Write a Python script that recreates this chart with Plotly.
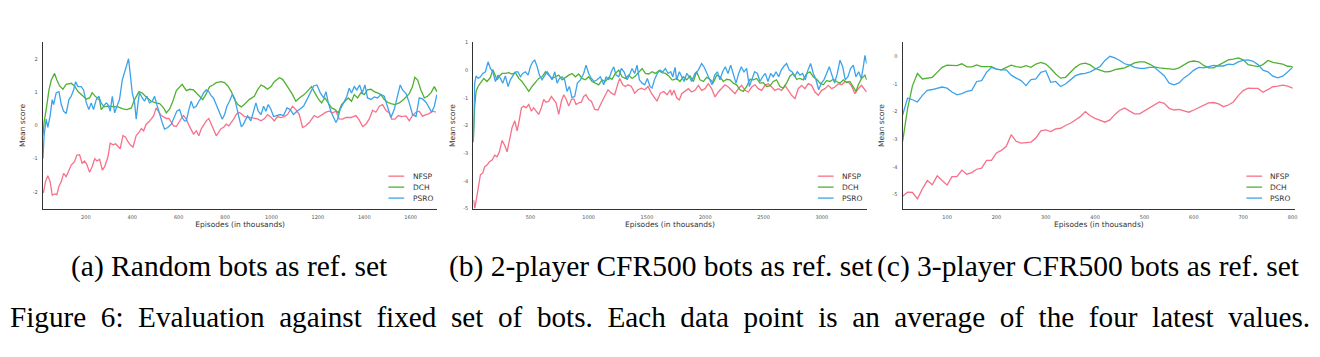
import plotly.graph_objects as go

# ---------------- data: panel (a) Random bots ----------------
A_NFSP_X = [17, 26, 36, 46, 55, 65, 75, 84, 94, 104, 115, 127, 137, 151, 161, 173, 184, 194, 204, 216, 227, 238, 248, 259, 271, 281, 295, 305, 317, 328, 338, 348, 360, 371, 381, 391, 403, 417, 429, 439, 449, 460, 472, 482, 492, 503, 515, 525, 535, 547, 558, 568, 578, 590, 601, 611, 621, 633, 644, 654, 664, 676, 687, 697, 707, 719, 730, 740, 750, 762, 773, 783, 793, 805, 816, 827, 837, 848, 860, 870, 883, 900, 920, 940, 955, 969, 983, 998, 1012, 1026, 1040, 1055, 1069, 1080, 1091, 1105, 1120, 1134, 1148, 1163, 1184, 1199, 1213, 1235, 1249, 1263, 1278, 1292, 1307, 1321, 1342, 1364, 1378, 1393, 1407, 1421, 1436, 1450, 1465, 1479, 1493, 1508, 1518, 1532, 1547, 1561, 1580, 1594, 1608, 1623, 1637, 1651, 1666, 1680, 1695, 1709]
A_NFSP_Y = [-2.03, -1.69, -1.51, -1.69, -2.10, -2.06, -2.08, -1.83, -1.69, -1.44, -1.54, -1.34, -1.19, -1.09, -0.90, -0.88, -1.14, -1.07, -1.17, -1.41, -1.24, -1.00, -1.07, -1.02, -1.34, -1.24, -0.95, -0.53, -0.58, -0.55, -0.62, -0.70, -0.30, -0.35, -0.48, -0.58, -0.65, -0.30, -0.21, -0.09, -0.16, 0.04, 0.11, 0.19, 0.29, 0.53, 0.40, 0.30, 0.26, 0.21, 0.21, 0.11, -0.01, -0.03, 0.11, 0.21, 0.30, 0.19, 0.01, -0.11, -0.26, -0.16, -0.31, -0.11, 0.01, 0.14, 0.21, 0.07, -0.11, -0.31, -0.19, -0.09, -0.06, 0.04, -0.01, 0.09, 0.19, 0.33, 0.40, 0.35, 0.27, 0.25, 0.22, 0.20, 0.14, 0.20, 0.33, 0.25, 0.14, 0.27, 0.24, 0.27, 0.33, 0.45, 0.58, 0.48, 0.33, -0.06, -0.01, 0.09, 0.30, 0.24, 0.30, 0.40, 0.43, 0.38, 0.43, 0.20, 0.19, 0.24, 0.24, 0.30, 0.17, -0.03, 0.04, 0.19, 0.46, 0.40, 0.58, 0.63, 0.46, 0.38, 0.19, 0.19, 0.30, 0.27, 0.29, 0.14, 0.30, 0.40, 0.43, 0.28, 0.33, 0.36, 0.43, 0.40]

A_DCH_X = [15, 20, 29, 41, 51, 65, 75, 87, 101, 115, 137, 151, 166, 184, 202, 216, 227, 238, 252, 259, 266, 276, 295, 317, 338, 360, 377, 396, 410, 429, 443, 460, 482, 500, 518, 535, 547, 561, 575, 590, 604, 615, 633, 647, 664, 676, 690, 704, 719, 733, 748, 762, 783, 798, 812, 827, 841, 855, 870, 883, 904, 926, 940, 955, 969, 983, 998, 1012, 1034, 1048, 1069, 1091, 1105, 1120, 1141, 1159, 1173, 1187, 1202, 1216, 1230, 1245, 1259, 1274, 1288, 1302, 1317, 1331, 1345, 1357, 1371, 1386, 1400, 1414, 1429, 1443, 1457, 1472, 1486, 1501, 1515, 1532, 1551, 1572, 1594, 1608, 1618, 1630, 1644, 1659, 1673, 1688, 1702, 1713]
A_DCH_Y = [-0.30, 0.10, 0.48, 1.07, 1.37, 1.57, 1.37, 1.19, 1.09, 1.24, 1.27, 1.19, 1.02, 0.90, 0.80, 0.83, 0.99, 0.90, 0.80, 0.76, 0.48, 0.56, 0.58, 0.58, 0.56, 0.50, 0.48, 0.53, 0.78, 1.02, 0.98, 0.86, 0.73, 0.68, 0.66, 0.53, 0.38, 0.50, 0.73, 1.05, 1.17, 1.24, 1.05, 1.09, 1.07, 0.98, 0.86, 0.78, 0.96, 1.17, 1.22, 1.29, 1.32, 1.29, 1.19, 1.02, 0.78, 0.63, 0.56, 0.63, 0.78, 0.88, 1.07, 1.22, 1.17, 1.09, 1.17, 1.32, 1.44, 1.39, 1.17, 0.93, 0.73, 0.83, 0.93, 1.07, 1.17, 0.98, 0.80, 0.68, 0.83, 0.68, 0.53, 0.48, 0.38, 0.63, 0.73, 0.83, 0.73, 0.93, 0.83, 0.99, 0.93, 1.07, 1.09, 1.02, 0.98, 0.93, 0.78, 0.70, 0.66, 0.63, 0.68, 0.80, 0.96, 1.17, 1.45, 1.37, 1.07, 0.83, 0.88, 0.99, 1.17, 1.02]

A_PSRO_X = [15, 20, 29, 36, 46, 55, 61, 72, 84, 94, 104, 115, 127, 137, 147, 156, 166, 180, 190, 202, 213, 223, 233, 245, 256, 266, 276, 288, 295, 305, 314, 324, 334, 345, 357, 367, 377, 384, 391, 400, 410, 417, 424, 431, 443, 453, 463, 474, 486, 496, 506, 518, 529, 539, 553, 568, 582, 592, 604, 615, 625, 633, 644, 654, 664, 676, 687, 697, 707, 719, 730, 740, 750, 762, 776, 788, 798, 808, 819, 831, 841, 848, 860, 870, 876, 886, 897, 911, 923, 933, 943, 955, 966, 976, 986, 998, 1009, 1023, 1038, 1052, 1067, 1081, 1095, 1110, 1124, 1138, 1153, 1167, 1182, 1196, 1210, 1225, 1235, 1245, 1256, 1268, 1278, 1285, 1296, 1311, 1325, 1335, 1345, 1357, 1368, 1380, 1391, 1403, 1414, 1429, 1443, 1457, 1472, 1486, 1501, 1515, 1529, 1544, 1555, 1565, 1580, 1594, 1608, 1623, 1637, 1651, 1666, 1680, 1690, 1702, 1713]
A_PSRO_Y = [-1.00, -0.30, 0.19, -0.06, 0.29, 0.78, 0.63, 0.98, 1.02, 0.63, 0.43, 0.36, 0.78, 0.88, 1.07, 1.32, 1.17, 1.17, 1.07, 0.68, 0.48, 0.68, 0.48, 0.78, 0.88, 0.68, 0.58, 0.68, 0.63, 0.43, 0.88, 0.38, 0.58, 0.78, 1.37, 1.62, 1.86, 2.01, 1.57, 0.98, 0.68, 0.19, 0.63, 0.99, 0.83, 0.73, 0.88, 0.68, 0.73, 0.88, 0.63, 0.33, 0.09, -0.11, -0.06, 0.04, 0.24, 0.43, 0.48, 0.24, 0.14, 0.14, 0.48, 0.73, 0.53, 0.58, 0.73, 0.83, 0.98, 1.07, 1.02, 0.90, 0.83, 0.63, 0.43, 0.19, 0.33, 0.58, 0.73, 0.93, 0.83, 0.58, 0.24, -0.03, 0.00, 0.14, 0.29, 0.14, 0.43, 0.68, 0.43, 0.33, 0.58, 0.43, 0.63, 0.48, 0.27, 0.30, 0.33, 0.30, 0.53, 0.48, 0.33, 0.43, 0.50, 0.58, 0.78, 0.98, 1.19, 1.22, 0.99, 0.83, 1.02, 0.68, 0.43, 0.24, 0.09, 0.19, 0.48, 0.68, 0.88, 1.12, 0.98, 1.17, 1.07, 1.22, 0.98, 1.22, 0.83, 0.78, 0.86, 0.83, 0.93, 0.88, 0.53, 0.24, 0.48, 0.88, 1.22, 1.07, 0.96, 0.68, 0.33, 0.27, 0.83, 0.80, 0.70, 0.53, 0.40, 0.58, 0.93]

# ---------------- data: panel (b) 2-player CFR500 bots ----------------
B_NFSP_X = [14, 22, 34, 51, 71, 91, 108, 128, 148, 171, 194, 214, 234, 257, 280, 300, 320, 343, 366, 386, 406, 423, 443, 463, 486, 508, 528, 548, 571, 594, 614, 634, 657, 680, 700, 720, 743, 766, 786, 806, 829, 852, 872, 892, 914, 937, 957, 977, 1000, 1023, 1052, 1080, 1109, 1137, 1166, 1194, 1223, 1252, 1266, 1292, 1315, 1338, 1366, 1395, 1423, 1452, 1481, 1509, 1538, 1566, 1586, 1615, 1644, 1672, 1701, 1712, 1732, 1755, 1778, 1798, 1826, 1855, 1883, 1912, 1941, 1969, 1998, 2026, 2055, 2084, 2112, 2141, 2169, 2198, 2226, 2255, 2284, 2312, 2341, 2370, 2398, 2427, 2455, 2484, 2512, 2541, 2570, 2598, 2627, 2655, 2684, 2713, 2741, 2770, 2798, 2827, 2855, 2884, 2913, 2941, 2970, 2998, 3027, 3056, 3084, 3113, 3142, 3170, 3199, 3227, 3256, 3284, 3313, 3341, 3370, 3384]
B_NFSP_Y = [-4.70, -5.00, -4.73, -4.26, -3.78, -3.72, -3.49, -3.43, -3.31, -3.25, -3.07, -3.13, -2.95, -2.54, -2.72, -2.95, -2.48, -2.07, -1.83, -2.19, -1.77, -1.36, -1.30, -1.36, -1.24, -1.48, -1.36, -1.48, -1.60, -1.36, -1.06, -1.16, -1.12, -0.95, -1.09, -1.18, -1.60, -1.12, -0.89, -1.04, -1.30, -1.06, -1.04, -1.24, -1.18, -1.16, -0.95, -0.89, -1.06, -1.12, -1.42, -1.44, -1.18, -0.97, -0.71, -0.83, -0.89, -0.47, -0.30, -0.53, -0.59, -0.53, -0.59, -0.83, -0.71, -0.65, -0.71, -0.59, -0.83, -1.00, -1.12, -0.83, -0.77, -0.89, -0.71, -0.91, -0.73, -1.00, -1.08, -0.85, -0.77, -0.67, -0.79, -0.73, -0.55, -0.73, -0.67, -0.49, -0.67, -0.97, -0.79, -0.67, -0.53, -0.61, -0.73, -0.85, -0.67, -0.55, -0.73, -0.79, -0.61, -0.53, -0.67, -0.73, -0.55, -0.49, -0.61, -0.73, -0.67, -0.73, -0.55, -0.73, -0.91, -1.03, -0.67, -0.55, -0.67, -0.49, -0.55, -0.79, -0.91, -0.73, -0.67, -0.55, -0.67, -0.61, -0.49, -0.53, -0.41, -0.43, -0.58, -0.85, -0.67, -0.55, -0.73, -0.79]

B_DCH_X = [10, 14, 22, 34, 51, 71, 100, 128, 157, 177, 194, 214, 234, 257, 285, 314, 343, 371, 400, 428, 457, 486, 514, 543, 571, 600, 629, 657, 686, 714, 743, 772, 800, 829, 857, 886, 914, 943, 971, 1000, 1029, 1057, 1086, 1115, 1143, 1172, 1200, 1229, 1258, 1286, 1315, 1343, 1372, 1401, 1429, 1458, 1486, 1515, 1544, 1572, 1601, 1629, 1658, 1687, 1715, 1726, 1755, 1783, 1812, 1841, 1869, 1898, 1926, 1955, 1984, 2012, 2041, 2069, 2098, 2126, 2155, 2184, 2212, 2241, 2269, 2298, 2326, 2355, 2384, 2412, 2441, 2469, 2498, 2527, 2555, 2584, 2612, 2641, 2670, 2698, 2727, 2755, 2784, 2812, 2841, 2870, 2898, 2927, 2956, 2984, 3013, 3041, 3070, 3099, 3127, 3156, 3184, 3213, 3241, 3270, 3293, 3313, 3341, 3370, 3384]
B_DCH_Y = [-2.60, -2.00, -1.30, -0.77, -0.59, -0.47, -0.30, -0.41, -0.26, 0.02, -0.18, -0.35, -0.21, -0.12, -0.12, -0.09, -0.14, -0.09, -0.30, -0.41, -0.59, -0.77, -0.59, -0.45, -0.30, -0.24, -0.06, -0.18, -0.30, -0.24, -0.18, -0.35, -0.26, -0.18, -0.12, -0.24, -0.14, -0.30, -0.35, -0.24, -0.41, -0.47, -0.53, -0.35, -0.41, -0.26, -0.33, -0.12, 0.00, -0.24, -0.30, -0.18, -0.30, -0.21, -0.09, 0.06, -0.12, -0.14, -0.06, -0.12, -0.02, -0.09, -0.12, -0.21, -0.35, -0.35, -0.30, -0.41, -0.24, -0.35, -0.21, -0.41, -0.06, -0.35, -0.41, -0.26, -0.33, -0.45, -0.18, -0.24, -0.41, -0.33, -0.35, -0.47, -0.53, -0.71, -0.77, -0.59, -0.33, -0.35, -0.30, -0.47, -0.45, -0.59, -0.57, -0.41, -0.35, -0.59, -0.65, -0.47, -0.21, -0.12, -0.33, -0.30, -0.35, -0.12, -0.06, -0.24, -0.33, -0.47, -0.53, -0.38, -0.41, -0.33, -0.41, -0.47, -0.35, -0.45, -0.41, -0.59, -0.77, -0.53, -0.30, -0.18, -0.35]

B_PSRO_X = [10, 14, 22, 34, 51, 71, 91, 114, 137, 157, 177, 200, 223, 243, 263, 285, 308, 328, 349, 371, 394, 414, 434, 457, 480, 500, 520, 537, 557, 577, 600, 623, 643, 663, 686, 709, 729, 749, 772, 794, 814, 834, 857, 880, 903, 929, 957, 977, 1000, 1023, 1046, 1072, 1100, 1129, 1149, 1172, 1194, 1215, 1235, 1258, 1280, 1303, 1329, 1349, 1372, 1395, 1415, 1435, 1458, 1481, 1503, 1526, 1543, 1566, 1589, 1612, 1635, 1658, 1681, 1704, 1721, 1741, 1755, 1778, 1798, 1818, 1841, 1863, 1883, 1912, 1941, 1969, 1989, 2012, 2035, 2058, 2081, 2104, 2126, 2149, 2172, 2195, 2218, 2241, 2264, 2287, 2309, 2332, 2355, 2378, 2401, 2424, 2447, 2470, 2492, 2515, 2538, 2561, 2584, 2607, 2630, 2652, 2675, 2698, 2721, 2744, 2767, 2790, 2813, 2835, 2858, 2881, 2904, 2927, 2950, 2973, 2996, 3018, 3041, 3064, 3087, 3110, 3133, 3156, 3179, 3201, 3224, 3247, 3270, 3293, 3316, 3339, 3356, 3370, 3384]
B_PSRO_Y = [-2.60, -2.00, -0.47, -0.21, -0.30, -0.24, -0.12, -0.06, 0.30, 0.06, -0.06, -0.41, -0.18, -0.30, -0.47, -0.21, -0.59, -0.35, -0.18, -0.06, -0.06, -0.24, -0.12, -0.06, -0.18, 0.12, 0.30, 0.36, 0.14, -0.18, -0.35, -0.18, -0.06, -0.18, -0.35, -0.06, -0.47, -0.30, -0.24, -0.35, -0.77, -0.59, -1.00, -0.95, -0.47, -0.35, -0.12, 0.18, -0.12, -0.30, -0.41, -0.35, -0.24, -0.53, -0.24, -0.35, -0.06, 0.12, -0.18, -0.24, 0.06, -0.06, -0.35, -0.18, 0.06, -0.12, 0.18, -0.35, -0.47, -0.53, -0.30, -0.59, -0.65, -0.33, -0.12, 0.00, -0.06, 0.06, -0.12, -0.06, -0.24, 0.10, -0.35, -0.06, -0.24, -0.41, -0.12, -0.24, -0.41, -0.12, 0.00, 0.24, 0.12, -0.12, -0.30, -0.53, -0.18, -0.06, -0.35, -0.06, 0.12, -0.12, 0.18, -0.18, -0.47, -0.12, 0.12, -0.06, 0.06, -0.59, -0.30, -0.06, -0.12, -0.41, -0.24, -0.12, -0.41, -0.12, -0.24, -0.06, -0.24, 0.00, 0.14, 0.24, 0.00, -0.06, -0.24, -0.06, -0.18, -0.12, -0.35, 0.00, 0.24, -0.12, -0.35, -0.71, -0.47, -0.35, -0.12, 0.12, -0.18, -0.47, -0.12, 0.36, 0.12, -0.35, -0.24, 0.06, 0.18, -0.24, -0.06, -0.30, 0.12, 0.53, 0.24]

# ---------------- data: panel (c) 3-player CFR500 bots ----------------
C_X = [10, 20, 30, 40, 50, 60, 70, 80, 90, 100, 110, 120, 130, 140, 150, 160, 170, 180, 190, 200,
       210, 220, 230, 240, 250, 260, 270, 280, 290, 300, 310, 320, 330, 340, 350, 360, 370, 380, 390, 400,
       410, 420, 430, 440, 450, 460, 470, 480, 490, 500, 510, 520, 530, 540, 550, 560, 570, 580, 590, 600,
       610, 620, 630, 640, 650, 660, 670, 680, 690, 700, 710, 720, 730, 740, 750, 760, 770, 780, 790, 800]
C_NFSP = [-5.06, -4.91, -4.92, -5.15, -4.79, -4.49, -4.64, -4.32, -4.49, -4.65, -4.35, -4.35, -4.11, -4.26, -4.20, -4.08, -4.04, -3.76, -3.76, -3.49,
          -3.40, -3.25, -2.83, -3.07, -3.14, -3.13, -3.10, -2.95, -2.69, -2.66, -2.72, -2.62, -2.60, -2.50, -2.42, -2.30, -2.18, -2.00, -2.15, -2.24,
          -2.30, -2.38, -2.30, -2.10, -1.95, -1.87, -1.98, -2.08, -2.08, -1.97, -1.86, -1.78, -1.65, -1.70, -1.88, -1.94, -1.92, -1.97, -2.02, -1.94,
          -1.86, -1.77, -1.68, -1.67, -1.72, -1.82, -1.76, -1.65, -1.42, -1.24, -1.15, -1.16, -1.16, -1.30, -1.20, -1.10, -1.08, -1.04, -1.08, -1.15]
C_DCH = [-3.07, -1.89, -1.06, -0.62, -0.82, -0.78, -0.76, -0.58, -0.40, -0.32, -0.32, -0.34, -0.27, -0.38, -0.38, -0.31, -0.37, -0.37, -0.37, -0.46,
         -0.49, -0.40, -0.32, -0.37, -0.40, -0.34, -0.40, -0.28, -0.22, -0.28, -0.44, -0.64, -0.79, -0.76, -0.58, -0.40, -0.28, -0.25, -0.31, -0.44,
         -0.50, -0.56, -0.55, -0.48, -0.45, -0.42, -0.33, -0.24, -0.20, -0.20, -0.28, -0.38, -0.42, -0.43, -0.44, -0.47, -0.42, -0.30, -0.20, -0.17,
         -0.20, -0.33, -0.42, -0.42, -0.32, -0.22, -0.13, -0.10, -0.06, -0.13, -0.30, -0.34, -0.37, -0.30, -0.15, -0.22, -0.25, -0.28, -0.36, -0.37]
C_PSRO = [-2.12, -1.51, -1.57, -1.65, -1.41, -1.23, -1.20, -1.15, -1.11, -1.15, -1.29, -1.39, -1.35, -1.27, -1.23, -0.91, -0.88, -0.58, -0.40, -0.46,
          -0.49, -0.49, -0.68, -0.79, -0.88, -1.06, -0.84, -0.82, -0.58, -0.52, -0.94, -0.91, -1.09, -1.00, -0.84, -0.70, -0.64, -0.62, -0.56, -0.46,
          -0.37, -0.15, 0.00, -0.06, -0.15, -0.27, -0.32, -0.40, -0.44, -0.44, -0.40, -0.40, -0.55, -0.70, -0.97, -1.03, -0.96, -0.78, -0.66, -0.50,
          -0.40, -0.42, -0.37, -0.33, -0.35, -0.35, -0.28, -0.30, -0.20, -0.15, -0.13, -0.18, -0.30, -0.50, -0.56, -0.72, -0.78, -0.72, -0.57, -0.40]

# ---------------- labels / ticks ----------------
SERIES = ["NFSP", "DCH", "PSRO"]
COLORS = ["#f77189", "#50b131", "#3ba3ec"]
A_XTICKS = [200, 400, 600, 800, 1000, 1200, 1400, 1600]
B_XTICKS = [500, 1000, 1500, 2000, 2500, 3000]
C_XTICKS = [100, 200, 300, 400, 500, 600, 700, 800]
A_YTICKS = [-2, -1, 0, 1, 2]
B_YTICKS = [-5, -4, -3, -2, -1, 0, 1]
C_YTICKS = [-5, -4, -3, -2, -1, 0]
SUBCAPTIONS = ["(a) Random bots as ref. set",
               "(b) 2-player CFR500 bots as ref. set",
               "(c) 3-player CFR500 bots as ref. set"]
CAPTION = "Figure 6: Evaluation against fixed set of bots. Each data point is an average of the four latest values."
X_TITLE = "Episodes (in thousands)"
Y_TITLE = "Mean score"

# the page body has an 8px default margin; lay out in window pixels and convert
OFF = 8
W, H = 1320 - OFF, 357 - OFF


def fx(px):
    return (px - OFF) / W


def fy(py):
    return 1 - (py - OFF) / H


panels = [
    dict(series=[(A_NFSP_X, A_NFSP_Y), (A_DCH_X, A_DCH_Y), (A_PSRO_X, A_PSRO_Y)],
         px=(43, 438), py=(40, 209), xr=[15, 1715], yr=[-2.5, 2.5],
         xt=A_XTICKS, yt=A_YTICKS, cap_x=230),
    dict(series=[(B_NFSP_X, B_NFSP_Y), (B_DCH_X, B_DCH_Y), (B_PSRO_X, B_PSRO_Y)],
         px=(474, 868), py=(40, 209), xr=[10, 3385], yr=[-5, 1],
         xt=B_XTICKS, yt=B_YTICKS, cap_x=662),
    dict(series=[(C_X, C_NFSP), (C_X, C_DCH), (C_X, C_PSRO)],
         px=(904, 1297), py=(40, 209), xr=[10, 805], yr=[-5.5, 0.5],
         xt=C_XTICKS, yt=C_YTICKS, cap_x=1090),
]

fig = go.Figure()
TICKFONT = dict(family="DejaVu Sans", size=5, color="#555555")
TITLEFONT = dict(family="DejaVu Sans", size=7.5, color="#333333")

for i, p in enumerate(panels):
    k = "" if i == 0 else str(i + 1)
    for (xs, ys), name, col in zip(p["series"], SERIES, COLORS):
        fig.add_trace(go.Scatter(x=xs, y=ys, mode="lines", name=name,
                                 line=dict(color=col, width=1.3),
                                 xaxis="x" + k, yaxis="y" + k, showlegend=False))
    x0, x1 = p["px"]
    y0, y1 = p["py"]
    fig.update_layout(**{
        "xaxis" + k: dict(domain=[fx(x0), fx(x1)], anchor="y" + k, range=p["xr"],
                          tickvals=p["xt"], ticktext=[str(v) for v in p["xt"]],
                          showgrid=False, zeroline=False, showline=True,
                          linecolor="#333333", linewidth=1.3, ticks="",
                          tickfont=TICKFONT, ticklabelstandoff=3,
                          title=dict(text=X_TITLE, font=TITLEFONT, standoff=2)),
        "yaxis" + k: dict(domain=[fy(y1), fy(y0)], anchor="x" + k, range=p["yr"],
                          tickvals=p["yt"], ticktext=[str(v) for v in p["yt"]],
                          showgrid=False, zeroline=False, showline=True,
                          linecolor="#333333", linewidth=1.3, ticks="",
                          tickfont=TICKFONT, ticklabelstandoff=3,
                          title=dict(text=Y_TITLE, font=TITLEFONT, standoff=6)),
    })
    # legend (drawn inside the lower-right corner of each panel)
    xd = "x" + k + " domain"
    yd = "y" + k + " domain"
    for j, (name, col) in enumerate(zip(SERIES, COLORS)):
        yy = 0.195 - 0.066 * j
        fig.add_shape(type="line", xref=xd, yref=yd, x0=0.876, x1=0.916, y0=yy, y1=yy,
                      line=dict(color=col, width=1.3))
        fig.add_annotation(xref=xd, yref=yd, x=0.932, y=yy, text=name, showarrow=False,
                           xanchor="left", yanchor="middle",
                           font=dict(family="DejaVu Sans", size=7.5, color="#333333"))
    fig.add_annotation(xref="paper", yref="paper", x=fx(p["cap_x"]), y=fy(267.5),
                       text=SUBCAPTIONS[i], showarrow=False, xanchor="center", yanchor="middle",
                       font=dict(family="Liberation Serif", size=29.5, color="#000000"))

# the caption is justified in the source (wider word gaps)
fig.add_annotation(xref="paper", yref="paper", x=fx(661), y=fy(319.5),
                   text=CAPTION.replace(" ", "  "),
                   showarrow=False, xanchor="center", yanchor="middle",
                   font=dict(family="Liberation Serif", size=29.2, color="#000000"))

fig.update_layout(width=W, height=H, autosize=False,
                  margin=dict(l=0, r=0, t=0, b=0),
                  paper_bgcolor="white", plot_bgcolor="white",
                  showlegend=False)

fig.write_html("out.html")
